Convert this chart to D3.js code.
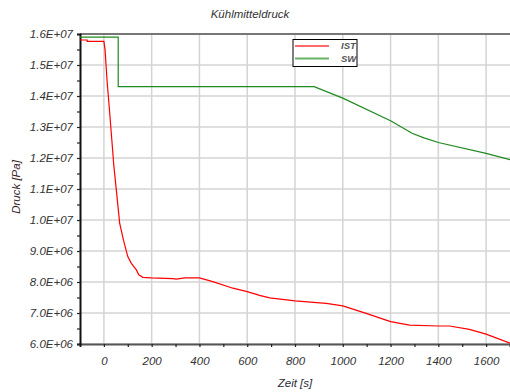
<!DOCTYPE html>
<html>
<head>
<meta charset="UTF-8">
<script src="https://cdnjs.cloudflare.com/ajax/libs/d3/7.8.5/d3.min.js"></script>
<style>
*{margin:0;padding:0}
body{background:#fff;width:510px;height:392px;overflow:hidden}
svg{display:block;font-family:'Liberation Sans',Arial,sans-serif}
</style>
</head>
<body>
<div id="chart"></div>
<script>
// time [s] / pressure [Pa]
const istT = [-100,-70,-70,0,5,14,20,31,42,52,66,82,100,115,136,146,163,198,289,303,338,400,456,540,600,652,694,800,931,1000,1098,1200,1280,1400,1447,1530,1600,1700];
const istP = [1.5806e7,1.5806e7,1.5765e7,1.5765e7,1.548e7,1.441e7,1.387e7,1.28e7,1.172e7,1.097e7,9.9e6,9.35e6,8.82e6,8.6e6,8.39e6,8.23e6,8.15e6,8.13e6,8.11e6,8.09e6,8.13e6,8.13e6,8.01e6,7.8e6,7.69e6,7.57e6,7.49e6,7.39e6,7.31e6,7.23e6,6.99e6,6.72e6,6.61e6,6.58e6,6.58e6,6.47e6,6.32e6,6.03e6];
const swT = [-100,60,60,880,1000,1200,1290,1340,1400,1600,1700];
const swP = [1.59e7,1.59e7,1.43e7,1.43e7,1.393e7,1.32e7,1.28e7,1.265e7,1.25e7,1.215e7,1.195e7];
const xTicks = [0,200,400,600,800,1000,1200,1400,1600];
const yTicks = [6e6,7e6,8e6,9e6,1e7,1.1e7,1.2e7,1.3e7,1.4e7,1.5e7,1.6e7];
const series = [
  {name:'IST', t:istT, p:istP, color:'#ff0000', legend:'#ff6a6a'},
  {name:'SW', t:swT, p:swP, color:'#1f8a1f', legend:'#66b366'}
];

const W=510,H=392,mg={t:34,r:0,b:48,l:80};
const x=d3.scaleLinear().domain([-100,1700]).range([mg.l,W-mg.r]);
const y=d3.scaleLinear().domain([6e6,1.6e7]).range([H-mg.b,mg.t]);

const svg=d3.select('#chart').append('svg').attr('width',W).attr('height',H);

// grid
svg.append('g').selectAll('line').data(xTicks).join('line')
  .attr('x1',d=>x(d)).attr('x2',d=>x(d)).attr('y1',mg.t).attr('y2',H-mg.b)
  .attr('stroke','#d4d4d4').attr('stroke-width',1.5);
svg.append('g').selectAll('line').data(yTicks).join('line')
  .attr('x1',mg.l).attr('x2',W).attr('y1',d=>y(d)).attr('y2',d=>y(d))
  .attr('stroke','#d4d4d4').attr('stroke-width',1.5);

// top border
svg.append('line').attr('x1',mg.l).attr('x2',W).attr('y1',mg.t).attr('y2',mg.t)
  .attr('stroke','#555').attr('stroke-width',1.5);

const fmt=v=>{const e=Math.floor(Math.log10(v));return (v/Math.pow(10,e)).toFixed(1)+'E+'+String(e).padStart(2,'0')};

const xAx=svg.append('g').attr('transform','translate(0,'+(H-mg.b)+')')
  .call(d3.axisBottom(x).tickValues(d3.range(-100,1701,100)).tickSize(3).tickFormat(d=>xTicks.includes(d)?d:''));
const yAx=svg.append('g').attr('transform','translate('+mg.l+',0)')
  .call(d3.axisLeft(y).tickValues(d3.range(6e6,1.6e7+1,5e5)).tickSize(3).tickFormat(d=>yTicks.some(v=>Math.abs(v-d)<1)?fmt(d):''));
[xAx,yAx].forEach(g=>{
  g.select('.domain').attr('stroke','#555').attr('stroke-width',2);
  g.selectAll('.tick line').attr('stroke','#222').attr('stroke-width',1.2);
  g.selectAll('text').attr('font-size','11.5px').attr('font-style','italic').attr('fill','#333')
    .attr('font-family',"'Liberation Sans',Arial,sans-serif");
});
yAx.select('.domain').attr('stroke','#111');
xAx.selectAll('text').attr('dy','1.3em');
yAx.selectAll('text').attr('dx','-1px');

// lines
const line=d3.line().x(d=>x(d[0])).y(d=>y(d[1]));
series.forEach(s=>{
  svg.append('path').datum(s.t.map((t,i)=>[t,s.p[i]]))
    .attr('d',line).attr('fill','none').attr('stroke',s.color).attr('stroke-width',1.2);
});

// legend
const lg=svg.append('g').attr('transform','translate(293,39.5)');
lg.append('rect').attr('width',64).attr('height',27).attr('fill','#fff').attr('stroke','#000').attr('stroke-width',1);
series.forEach((s,i)=>{
  const ly=6.5+i*12.5;
  lg.append('line').attr('x1',2).attr('x2',36).attr('y1',ly).attr('y2',ly).attr('stroke',s.legend).attr('stroke-width',2);
  lg.append('text').attr('x',48).attr('y',ly).attr('dy','0.35em').attr('font-size','9.5px')
    .attr('font-style','italic').attr('font-weight','bold').attr('fill','#555').text(s.name);
});

// titles
svg.append('text').attr('x',250).attr('y',18).attr('text-anchor','middle').attr('font-size','11.5px')
  .attr('font-style','italic').attr('fill','#333').text('Kühlmitteldruck');
svg.append('text').attr('transform','translate(20,187) rotate(-90)').attr('text-anchor','middle')
  .attr('font-size','11.5px').attr('font-style','italic').attr('fill','#3a1f2a').text('Druck [Pa]');
svg.append('text').attr('x',295).attr('y',387).attr('text-anchor','middle').attr('font-size','11.5px')
  .attr('font-style','italic').attr('fill','#2a2a3a').text('Zeit [s]');
</script>
</body>
</html>
